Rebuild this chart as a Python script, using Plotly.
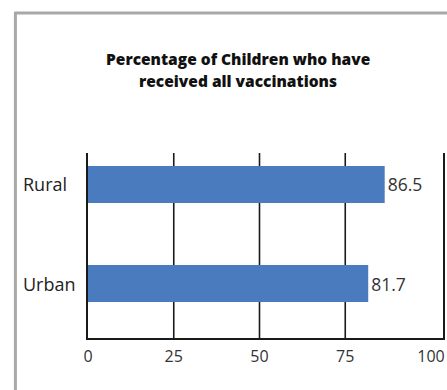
import plotly.graph_objects as go

categories = ["Urban", "Rural"]
values = [81.7, 86.5]
tick_vals = [0, 25, 50, 75, 100]
grid_vals = [25, 50, 75]
title_lines = ["Percentage of Children who have", "received all vaccinations"]

W, H = 447, 390
L, R, T, B = 88, 2, 153, 52
pw = W - L - R
ph = H - T - B

def px_x(px):
    return (px - L) / pw

def px_y(py):
    return (H - B - py) / ph

FONT = "Open Sans"

fig = go.Figure()
fig.add_trace(go.Bar(
    y=categories, x=values, orientation="h",
    marker=dict(color="#4a7bbf", line=dict(width=0)),
    width=0.374,
    text=[f"{v}" for v in values], textposition="outside",
    textfont=dict(family=FONT, size=17.5, color="#333333"),
    cliponaxis=False,
))

shapes = []
for g in grid_vals:
    shapes.append(dict(type="line", xref="x", yref="paper", x0=g, x1=g, y0=0, y1=1,
                       line=dict(color="#1a1a1a", width=1.6), layer="below"))
# outer frame (gray)
shapes.append(dict(type="line", xref="paper", yref="paper", x0=px_x(15), x1=px_x(15),
                   y0=px_y(12), y1=px_y(392), line=dict(color="#a8a8a8", width=3)))
shapes.append(dict(type="line", xref="paper", yref="paper", x0=px_x(14), x1=px_x(450),
                   y0=px_y(13), y1=px_y(13), line=dict(color="#a8a8a8", width=3)))

annotations = []
for i, line in enumerate(title_lines):
    annotations.append(dict(text=line, xref="paper", yref="paper", x=px_x(239), y=px_y(59 + 22 * i),
                            xanchor="center", yanchor="middle", showarrow=False,
                            font=dict(family=FONT, size=15.5, color="#111111", weight=800)))
for c in categories:
    annotations.append(dict(text=c, xref="paper", yref="y", x=px_x(21), y=c,
                            xanchor="left", yanchor="middle", showarrow=False,
                            font=dict(family=FONT, size=18, color="#222222")))

fig.update_layout(
    width=W, height=H,
    margin=dict(l=L, r=R, t=T, b=B, pad=0),
    paper_bgcolor="white", plot_bgcolor="white",
    showlegend=False,
    shapes=shapes, annotations=annotations,
    xaxis=dict(range=[0, 103.5], tickvals=tick_vals, ticktext=[str(v) for v in tick_vals],
               showgrid=False, zeroline=False, showline=True, linecolor="#1a1a1a", linewidth=1.6,
               ticks="outside", ticklen=3, tickcolor="rgba(0,0,0,0)",
               tickfont=dict(family=FONT, size=16, color="#333333")),
    yaxis=dict(type="category", categoryorder="array", categoryarray=categories,
               range=[-0.55, 1.318], showticklabels=False, showgrid=False, zeroline=False,
               showline=True, mirror=True, linecolor="#1a1a1a", linewidth=1.6, ticks=""),
)

fig.write_html("out.html")
